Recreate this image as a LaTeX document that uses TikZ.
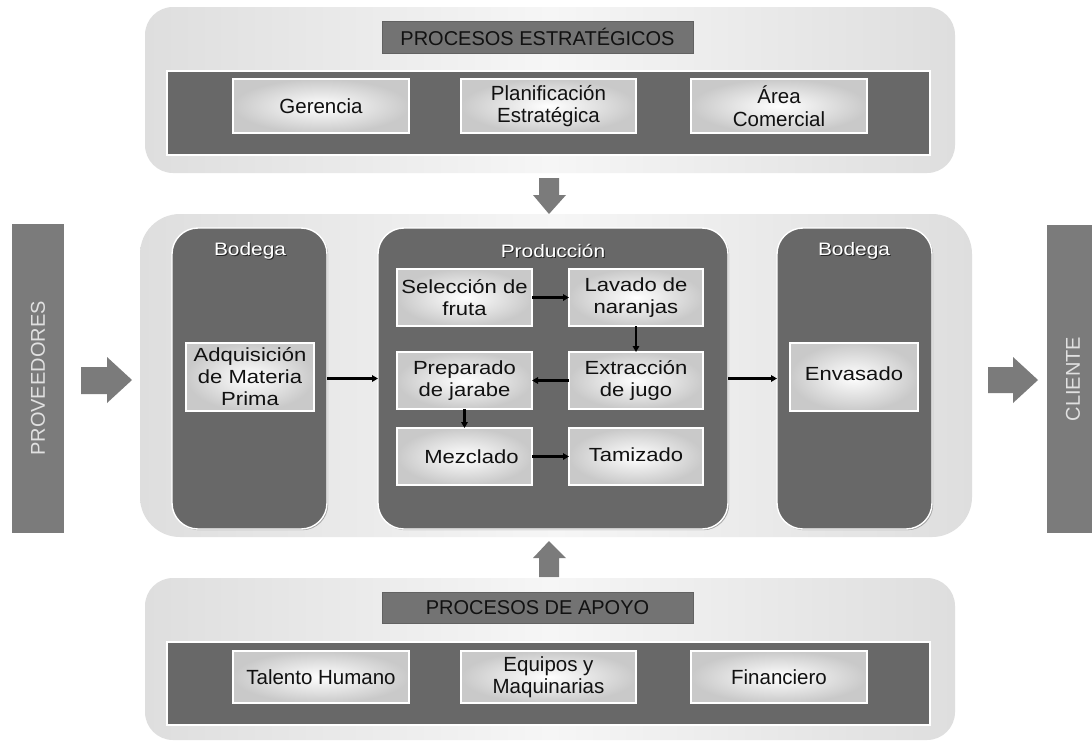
\documentclass[tikz,border=0pt]{standalone}
\usepackage{fontspec}
\setmainfont{Liberation Sans}
\newfontfamily\wideface[FakeStretch=1.16]{Liberation Sans}
\usetikzlibrary{shadows,arrows.meta}

\definecolor{panelEdge}{HTML}{DEDEDE}
\definecolor{panelMid}{HTML}{F6F6F6}
\definecolor{darkband}{HTML}{686868}
\definecolor{titlebar}{HTML}{737373}
\definecolor{sidebar}{HTML}{7B7B7B}
\definecolor{boxedge}{HTML}{C9C9C9}
\definecolor{inktext}{HTML}{111111}

% label with dark offset copies underneath
\newcommand{\embossed}[1]{%
  \makebox[0pt][l]{\hspace{1.1pt}\raisebox{-1.1pt}{\color{black!85}#1}}%
  \makebox[0pt][l]{\hspace{-0.5pt}\raisebox{0.5pt}{\color{black!60}#1}}#1}

\begin{document}
\begin{tikzpicture}[x=1pt,y=-1pt,
  every node/.style={inner sep=0pt, outer sep=0pt},
  panel/.style={anchor=north west, rounded corners=28pt, draw=none,
    left color=panelEdge, right color=panelEdge, middle color=panelMid},
  band/.style={anchor=north west, fill=darkband, draw=white, line width=1.2pt,
    drop shadow={shadow xshift=1pt, shadow yshift=-1pt, opacity=0.6}},
  group/.style={anchor=north west, rounded corners=26pt, fill=darkband,
    draw=white, line width=1.4pt,
    drop shadow={shadow xshift=1.2pt, shadow yshift=-1.2pt, opacity=0.65}},
  titlebar/.style={anchor=north west, fill=titlebar, draw=titlebar!85!black,
    line width=0.6pt, text=inktext, font=\fontsize{20}{22}\selectfont},
  gbox/.style={anchor=north west, inner color=white, outer color=boxedge,
    draw=white, line width=1.5pt, align=center, text=inktext,
    drop shadow={shadow xshift=1.2pt, shadow yshift=-1.2pt, opacity=0.65}},
  sbox/.style={gbox, font=\fontsize{20.5}{22.5}\selectfont},
  pbox/.style={gbox, font=\wideface\fontsize{19}{22}\selectfont},
  grouplabel/.style={text=white, font=\wideface\fontsize{18}{20}\selectfont},
  sidebar/.style={fill=sidebar, rotate=90, text=white!88!black,
    font=\fontsize{20}{22}\selectfont},
  bigarrow/.style={fill=sidebar, draw=none},
  flow/.style={line width=2.4pt, draw=black,
    -{Triangle[length=6pt,width=6.5pt]}}
]
\clip (0,0) rectangle (1092,740);
\fill[white] (0,0) rectangle (1092,740);

% ---------- strategic processes ----------
\node[panel, minimum width=810pt, minimum height=166pt] (top) at (145,7) {};
\node[titlebar, minimum width=311pt, minimum height=32pt] (toptitle) at (382,21)
  {PROCESOS ESTRATÉGICOS};
\node[band, minimum width=763pt, minimum height=84pt] (topband) at (167,71) {};
\node[sbox, minimum width=176pt, minimum height=54pt] (ger) at (233,79) {Gerencia};
\node[sbox, minimum width=175pt, minimum height=54pt] (plan) at (461,79)
  {Planificación\\Estratégica};
\node[sbox, minimum width=176pt, minimum height=54pt] (com) at (691,79)
  {Área\\Comercial};

% ---------- core panel ----------
\node[panel, rounded corners=40pt, minimum width=832pt, minimum height=323pt] (core)
  at (140,214) {};

% incoming warehouse
\node[group, minimum width=155pt, minimum height=301pt] (bodL) at (172,228) {};
\node[grouplabel] (bodLt) at (250,251) {\embossed{Bodega}};
\node[pbox, minimum width=128pt, minimum height=68pt] (adq) at (186,343)
  {Adquisición\\de Materia\\Prima};

% production
\node[group, minimum width=350pt, minimum height=301pt] (prod) at (378,228) {};
\node[grouplabel] (prodt) at (553,251) {\embossed{Producción}};
\node[pbox, minimum width=135pt, minimum height=57pt] (sel) at (397,269)
  {Selección de\\fruta};
\node[pbox, minimum width=134pt, minimum height=57pt] (lav) at (569,269)
  {Lavado de\\naranjas};
\node[pbox, minimum width=135pt, minimum height=57pt] (prep) at (397,352)
  {Preparado\\de jarabe};
\node[pbox, minimum width=134pt, minimum height=57pt] (ext) at (569,352)
  {Extracción\\de jugo};
\node[pbox, minimum width=135pt, minimum height=57pt] (mez) at (397,428)
  {\hspace*{14pt}Mezclado};
\node[pbox, minimum width=134pt, minimum height=57pt] (tam) at (569,428)
  {\raisebox{3pt}{Tamizado}};

% outgoing warehouse
\node[group, minimum width=155pt, minimum height=301pt] (bodR) at (777,228) {};
\node[grouplabel] (bodRt) at (854,251) {\embossed{Bodega}};
\node[pbox, minimum width=128pt, minimum height=68pt] (env) at (790,343)
  {\raisebox{7pt}{Envasado}};

% flow between stages
\draw[flow] (bodL.east) -- (prod.west);
\draw[flow] (prod.east) -- (bodR.west);
\draw[flow] (sel.east) -- (lav.west);
\draw[flow] (lav.south) -- (ext.north);
\draw[flow] (ext.west) -- (prep.east);
\draw[flow] (prep.south) -- (mez.north);
\draw[flow] (mez.east) -- (tam.west);

% ---------- suppliers and client ----------
\node[sidebar, minimum width=309pt, minimum height=52pt] (prov) at (38,378.5)
  {PROVEEDORES};
\node[sidebar, minimum width=308pt, minimum height=52pt] (cli) at (1073,379)
  {CLIENTE};

\fill[bigarrow] (81,367) -- (107,367) -- (107,357) -- (132,380) -- (107,403)
  -- (107,394) -- (81,394) -- cycle;
\fill[bigarrow] (988,367) -- (1013,367) -- (1013,357) -- (1038,380) -- (1013,403)
  -- (1013,393) -- (988,393) -- cycle;
\fill[bigarrow] (539,178) -- (559,178) -- (559,195) -- (566,195) -- (549,214)
  -- (533,195) -- (539,195) -- cycle;
\fill[bigarrow] (539,577) -- (559,577) -- (559,558) -- (566,558) -- (549,541)
  -- (533,558) -- (539,558) -- cycle;

% ---------- support processes ----------
\node[panel, minimum width=810pt, minimum height=162pt] (bot) at (145,578) {};
\node[titlebar, minimum width=311pt, minimum height=31pt] (bottitle) at (382,592)
  {PROCESOS DE APOYO};
\node[band, minimum width=763pt, minimum height=83pt] (botband) at (167,642) {};
\node[sbox, minimum width=176pt, minimum height=52pt] (tal) at (233,651)
  {Talento Humano};
\node[sbox, minimum width=175pt, minimum height=52pt] (equ) at (461,651)
  {Equipos y\\Maquinarias};
\node[sbox, minimum width=176pt, minimum height=52pt] (fin) at (691,651)
  {Financiero};
\end{tikzpicture}
\end{document}
